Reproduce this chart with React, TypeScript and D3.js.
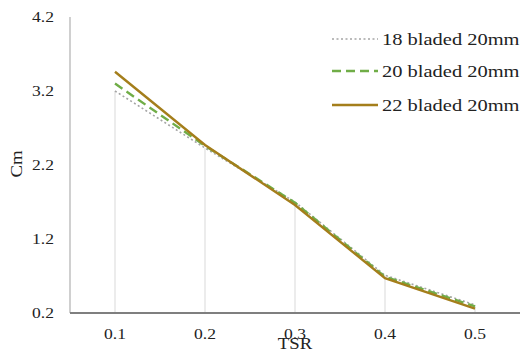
import React from "react";
import * as d3 from "d3";

const categories = ["0.1", "0.2", "0.3", "0.4", "0.5"];
const yTicks = [0.2, 1.2, 2.2, 3.2, 4.2];
const s18 = [3.2, 2.43, 1.7, 0.71, 0.31];
const s20 = [3.3, 2.46, 1.69, 0.69, 0.29];
const s22 = [3.46, 2.47, 1.66, 0.67, 0.26];
const seriesNames = ["18 bladed 20mm", "20 bladed 20mm", "22 bladed 20mm"];

const W = 523, H = 354;
const SX = 1.17;
const FONT = "'Liberation Serif', 'Times New Roman', serif";

function T({ x, y, size, anchor = "start", children, rotate = 0, fill = "#222" }: any) {
  return (
    <text
      transform={`translate(${x},${y}) rotate(${rotate}) scale(${SX},1)`}
      fontSize={size}
      fontFamily={FONT}
      textAnchor={anchor}
      fill={fill}
    >
      {children}
    </text>
  );
}

export default function App() {
  const x = d3.scaleBand<string>().domain(categories).range([70, 520]).paddingInner(0).paddingOuter(0);
  const cx = (c: string) => (x(c) as number) + x.bandwidth() / 2;
  const y = d3.scaleLinear().domain([0.2, 4.2]).range([313, 17]);
  const line = d3
    .line<number>()
    .x((_, i) => cx(categories[i]))
    .y((d) => y(d));

  const series = [
    { data: s18, stroke: "#a5a5a5", width: 1.6, dash: "2,2.5" },
    { data: s20, stroke: "#70ad47", width: 2.4, dash: "9,5" },
    { data: s22, stroke: "#a47e1b", width: 2.4, dash: undefined },
  ];

  return (
    <svg width={W} height={H} style={{ position: "absolute", left: 0, top: 0, background: "#fff" }}>
      <rect width={W} height={H} fill="#fff" />
      {/* drop lines */}
      {categories.map((c, i) => (
        <line key={c} x1={cx(c)} x2={cx(c)} y1={y(0.2)} y2={y(s18[i])} stroke="#e0e0e0" strokeWidth={1.2} />
      ))}
      {/* y axis */}
      <line x1={70} x2={70} y1={y(4.2)} y2={y(0.2)} stroke="#b0b0b0" strokeWidth={1.2} />
      {yTicks.map((t) => (
        <T key={t} x={54} y={y(t) + 5} size={15} anchor="end">
          {t.toFixed(1)}
        </T>
      ))}
      {/* series */}
      {series.map((s, i) => (
        <path key={i} d={line(s.data) || ""} fill="none" stroke={s.stroke} strokeWidth={s.width} strokeDasharray={s.dash} />
      ))}
      {/* x axis */}
      <line x1={70} x2={520} y1={y(0.2)} y2={y(0.2)} stroke="#7f7f7f" strokeWidth={2.2} />
      {categories.map((c) => (
        <T key={c} x={cx(c)} y={339} size={15} anchor="middle">
          {c}
        </T>
      ))}
      <T x={295} y={349} size={16} anchor="middle">TSR</T>
      <T x={22} y={164} size={16} anchor="middle" rotate={-90}>Cm</T>
      {/* legend */}
      {series.map((s, i) => {
        const ly = [39, 71, 105][i];
        return (
          <g key={i}>
            <line x1={332} x2={378} y1={ly} y2={ly} stroke={s.stroke} strokeWidth={s.width} strokeDasharray={s.dash} />
            <T x={382} y={ly + 6} size={17.5}>
              {seriesNames[i]}
            </T>
          </g>
        );
      })}
    </svg>
  );
}
